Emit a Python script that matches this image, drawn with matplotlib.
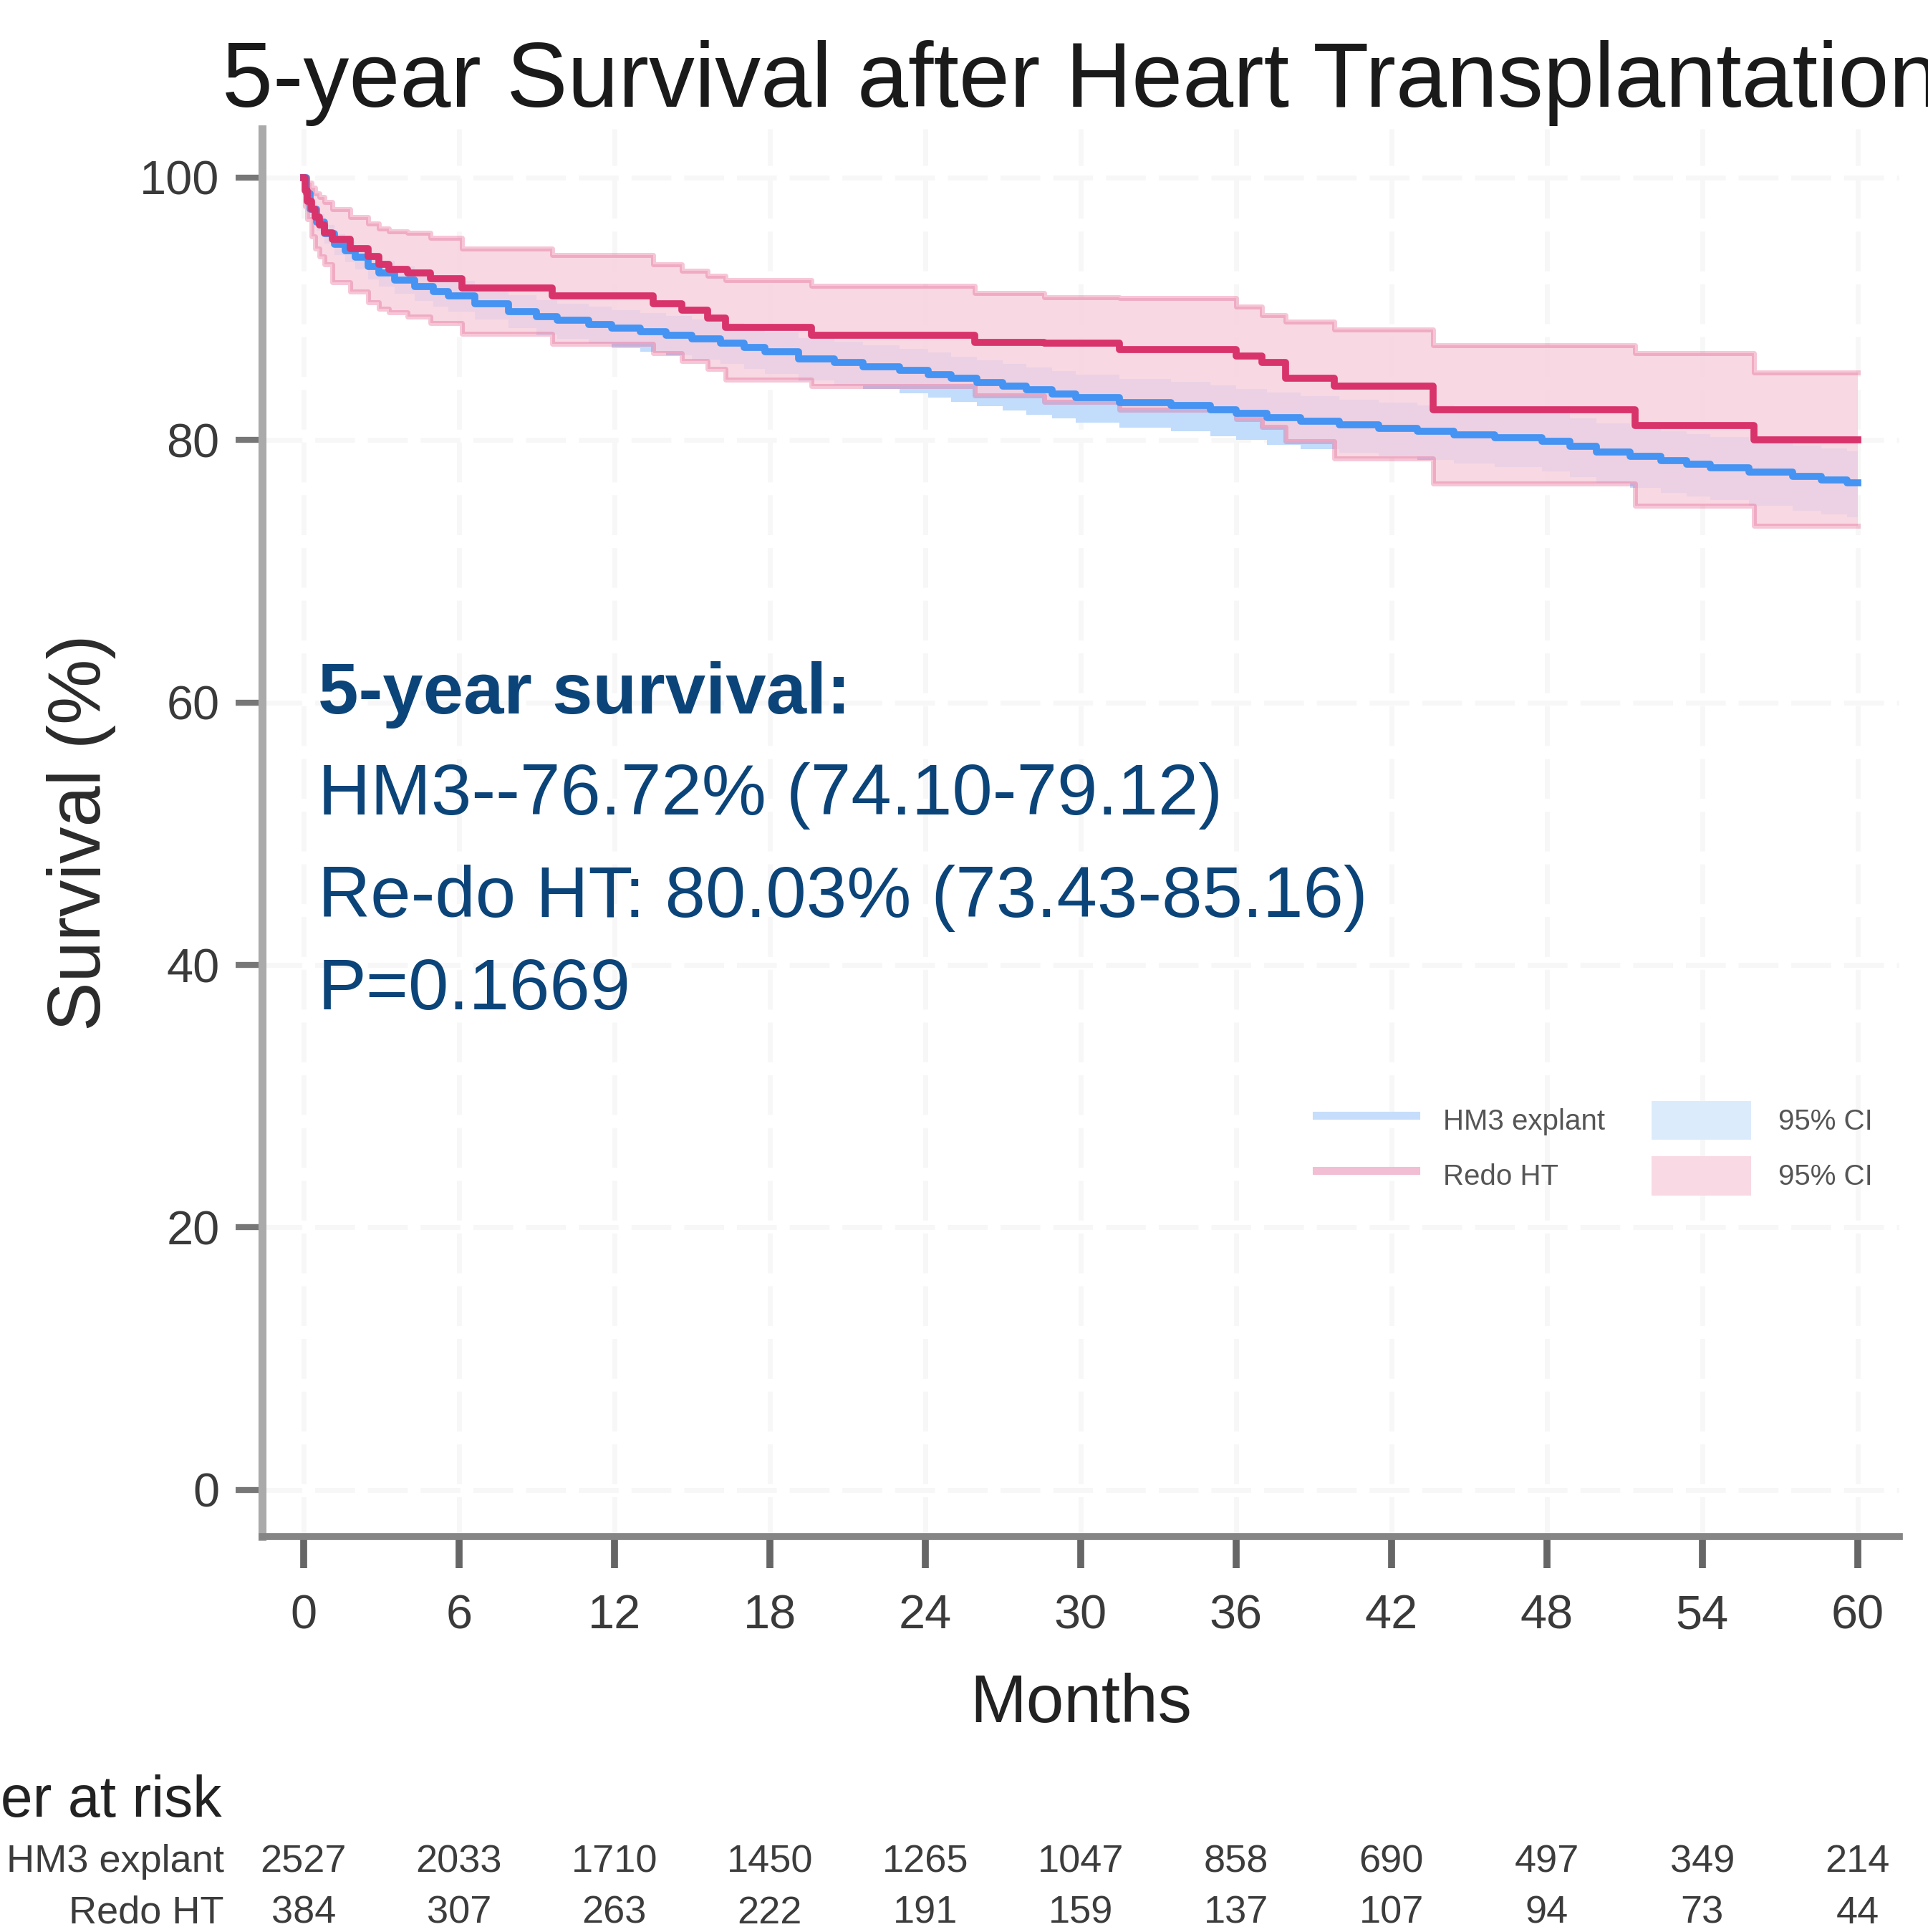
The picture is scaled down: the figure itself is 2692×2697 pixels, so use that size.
import matplotlib
matplotlib.use("Agg")
import matplotlib.pyplot as plt
from matplotlib.lines import Line2D
from matplotlib.patches import Patch
from matplotlib.transforms import blended_transform_factory

plt.rcParams['font.family'] = ['Liberation Sans', 'DejaVu Sans']

# HM3 explant: KM estimate (months, %)
hm3_t = [0, 0.1, 0.25, 0.5, 0.8, 1.2, 1.6, 2.0, 2.5, 2.9, 3.5, 4.3, 5.0, 5.6, 6.6,
         7.9, 9.0, 9.8, 11.0, 11.9, 13.0, 14.0, 15.0, 16.1, 17.0, 17.8, 19.1, 20.5,
         21.6, 23.0, 24.1, 25.0, 26.0, 27.0, 27.9, 28.9, 29.8, 31.5, 33.5, 35.0,
         36.0, 37.2, 38.5, 40.0, 41.5, 43.0, 44.4, 46.0, 47.8, 48.9, 49.9, 51.2,
         52.4, 53.4, 54.3, 55.8, 57.5, 58.6, 59.6, 60]
hm3_surv = [100, 98.8, 97.6, 96.6, 95.7, 94.9, 94.4, 93.9, 93.2, 92.7, 92.2, 91.7,
            91.3, 91.0, 90.4, 89.8, 89.4, 89.1, 88.8, 88.5, 88.25, 88.0, 87.7, 87.4,
            87.05, 86.7, 86.2, 85.9, 85.6, 85.3, 85.0, 84.7, 84.4, 84.1, 83.8, 83.5,
            83.2, 82.85, 82.6, 82.3, 82.0, 81.7, 81.4, 81.15, 80.9, 80.65, 80.4,
            80.15, 79.9, 79.5, 79.1, 78.75, 78.4, 78.15, 77.9, 77.55, 77.2, 76.95,
            76.72, 76.72]
hm3_lower = [100, 98.35, 97.05, 95.95, 94.95, 94.1, 93.55, 93.0, 92.25, 91.7, 91.15,
             90.6, 90.15, 89.8, 89.15, 88.5, 88.05, 87.7, 87.35, 87.0, 86.73, 86.45,
             86.12, 85.8, 85.43, 85.05, 84.52, 84.2, 83.88, 83.55, 83.22, 82.9,
             82.58, 82.26, 81.94, 81.62, 81.3, 80.92, 80.64, 80.3, 79.98, 79.65,
             79.32, 79.05, 78.77, 78.49, 78.2, 77.91, 77.62, 77.18, 76.74, 76.35,
             75.96, 75.68, 75.4, 75.01, 74.63, 74.35, 74.10, 74.10]
hm3_upper = [100, 99.2, 98.1, 97.2, 96.4, 95.65, 95.2, 94.75, 94.1, 93.65, 93.2,
             92.75, 92.4, 92.12, 91.57, 91.02, 90.66, 90.4, 90.15, 89.88, 89.65,
             89.43, 89.16, 88.88, 88.55, 88.22, 87.75, 87.47, 87.19, 86.92, 86.64,
             86.36, 86.08, 85.8, 85.52, 85.24, 84.96, 84.63, 84.41, 84.14, 83.86,
             83.59, 83.32, 83.09, 82.87, 82.65, 82.43, 82.22, 82.0, 81.64, 81.28,
             80.97, 80.66, 80.44, 80.21, 79.89, 79.57, 79.34, 79.12, 79.12]

# Redo HT: KM estimate with 95% CI
redo_t = [0, 0.05, 0.15, 0.3, 0.45, 0.6, 0.8, 1.1, 1.8, 2.5, 2.9, 3.3, 4.0, 4.9,
          6.1, 9.6, 13.5, 14.6, 15.6, 16.3, 19.6, 25.9, 28.6, 31.5, 36.0, 37.0,
          37.9, 39.8, 43.6, 51.4, 56.0, 60]
redo_surv = [100, 99.0, 98.2, 97.6, 97.0, 96.4, 95.8, 95.3, 94.6, 94.0, 93.4, 93.0,
             92.7, 92.3, 91.6, 91.0, 90.4, 89.9, 89.3, 88.6, 88.0, 87.45, 87.35,
             86.9, 86.4, 85.9, 84.7, 84.1, 82.3, 81.1, 80.03, 80.03]
redo_lower = [100, 97.8, 96.8, 95.5, 94.6, 94.0, 93.4, 92.0, 91.3, 90.5, 90.0, 89.7,
              89.4, 88.9, 88.1, 87.3, 86.6, 86.0, 85.4, 84.6, 84.1, 83.4, 82.9,
              82.3, 81.6, 81.0, 79.9, 78.6, 76.7, 75.0, 73.43, 73.43]
redo_upper = [100, 99.9, 99.6, 99.2, 98.8, 98.5, 98.1, 97.6, 97.0, 96.5, 96.1, 95.9,
              95.8, 95.4, 94.6, 94.1, 93.4, 92.9, 92.5, 92.2, 91.75, 91.2, 90.85,
              90.8, 90.15, 89.5, 89.0, 88.4, 87.2, 86.6, 85.16, 85.16]

risk_months = [0, 6, 12, 18, 24, 30, 36, 42, 48, 54, 60]
risk_hm3 = [2527, 2033, 1710, 1450, 1265, 1047, 858, 690, 497, 349, 214]
risk_redo = [384, 307, 263, 222, 191, 159, 137, 107, 94, 73, 44]

summary_lines = ["HM3--76.72% (74.10-79.12)",
                 "Re-do HT: 80.03% (73.43-85.16)",
                 "P=0.1669"]

blue = '#4593f2'
pink = '#d8336b'
text_blue = '#0b4479'

fig = plt.figure(figsize=(26.92, 26.97), dpi=100)
ax = fig.add_axes([0.136, 0.2047, 0.849, 0.7286])

# CI bands: HM3 underneath, Redo HT nearly opaque on top
ax.fill_between(hm3_t, hm3_lower, hm3_upper, step='post', color='#c2dcfb',
                linewidth=0)
ax.fill_between(redo_t, redo_lower, redo_upper, step='post', color='#f6cfdd',
                alpha=0.8, linewidth=0)
ax.step(redo_t, redo_lower, where='post', color='#e2457c', alpha=0.3, lw=5)
ax.step(redo_t, redo_upper, where='post', color='#e2457c', alpha=0.3, lw=5)

# survival curves
ax.step(hm3_t, hm3_surv, where='post', color=blue, lw=7)
ax.step(redo_t, redo_surv, where='post', color=pink, lw=7)

ax.set_xlim(-1.6, 61.6)
ax.set_ylim(-3.55, 103.7)
ax.set_xticks(risk_months)
ax.set_yticks([0, 20, 40, 60, 80, 100])
ax.grid(True, color='#f7f7f7', linestyle=(0, (8, 2.6)), linewidth=5)
ax.set_axisbelow(True)

for side in ['top', 'right']:
    ax.spines[side].set_visible(False)
ax.spines['left'].set_color('#aaaaaa')
ax.spines['left'].set_linewidth(8)
ax.spines['bottom'].set_color('#858585')
ax.spines['bottom'].set_linewidth(7)
ax.tick_params(axis='x', length=32, width=7, color='#666666', labelsize=48,
               labelcolor='#3a3a3a', pad=26)
ax.tick_params(axis='y', length=27, width=6, color='#777777', labelsize=48,
               labelcolor='#3a3a3a', pad=16)

ax.set_xlabel('Months', fontsize=68, color='#222222', labelpad=34)
ax.set_ylabel('Survival (%)', fontsize=74, color='#2b2b2b', labelpad=24)
ax.set_title('5-year Survival after Heart Transplantation', fontsize=92,
             color='#1a1a1a', pad=22)

# summary annotation
ax.text(0.55, 59.17, '5-year survival:', fontsize=73, fontweight='bold',
        color=text_blue, va='baseline')
for txt, yy in zip(summary_lines, [51.47, 43.67, 36.63]):
    ax.text(0.55, yy, txt, fontsize=73, color=text_blue, va='baseline')

# legend
handles = [Line2D([], [], color='#c6defb', lw=8),
           Line2D([], [], color='#f2bed4', lw=8),
           Patch(facecolor='#dcebfc', edgecolor='none'),
           Patch(facecolor='#f8d9e4', edgecolor='none')]
labels = ['HM3 explant', 'Redo HT', '95% CI', '95% CI']
leg = ax.legend(handles, labels, ncol=2, loc='center',
                bbox_to_anchor=(0.814, 0.276), frameon=False, fontsize=29,
                handlelength=3.45, handleheight=1.72, labelspacing=0.55,
                handletextpad=0.95, columnspacing=1.6, borderpad=0)
for t in leg.get_texts():
    t.set_color('#555555')

# number at risk table
tr = blended_transform_factory(ax.transData, fig.transFigure)
fig.text(310 / 2692, 0.0675, 'Number at risk', fontsize=58, color='#222222',
         ha='right', va='center')
fig.text(313 / 2692, 0.0362, 'HM3 explant', fontsize=39, color='#3c3c3c',
         ha='right', va='center')
fig.text(313 / 2692, 0.0098, 'Redo HT', fontsize=39, color='#3c3c3c',
         ha='right', va='center')
for m, a, b in zip(risk_months, risk_hm3, risk_redo):
    ax.text(m, 0.0362, str(a), transform=tr, fontsize=39, color='#3c3c3c',
            ha='center', va='center', clip_on=False)
    ax.text(m, 0.0098, str(b), transform=tr, fontsize=39, color='#3c3c3c',
            ha='center', va='center', clip_on=False)

fig.savefig('out.png', dpi=100)
